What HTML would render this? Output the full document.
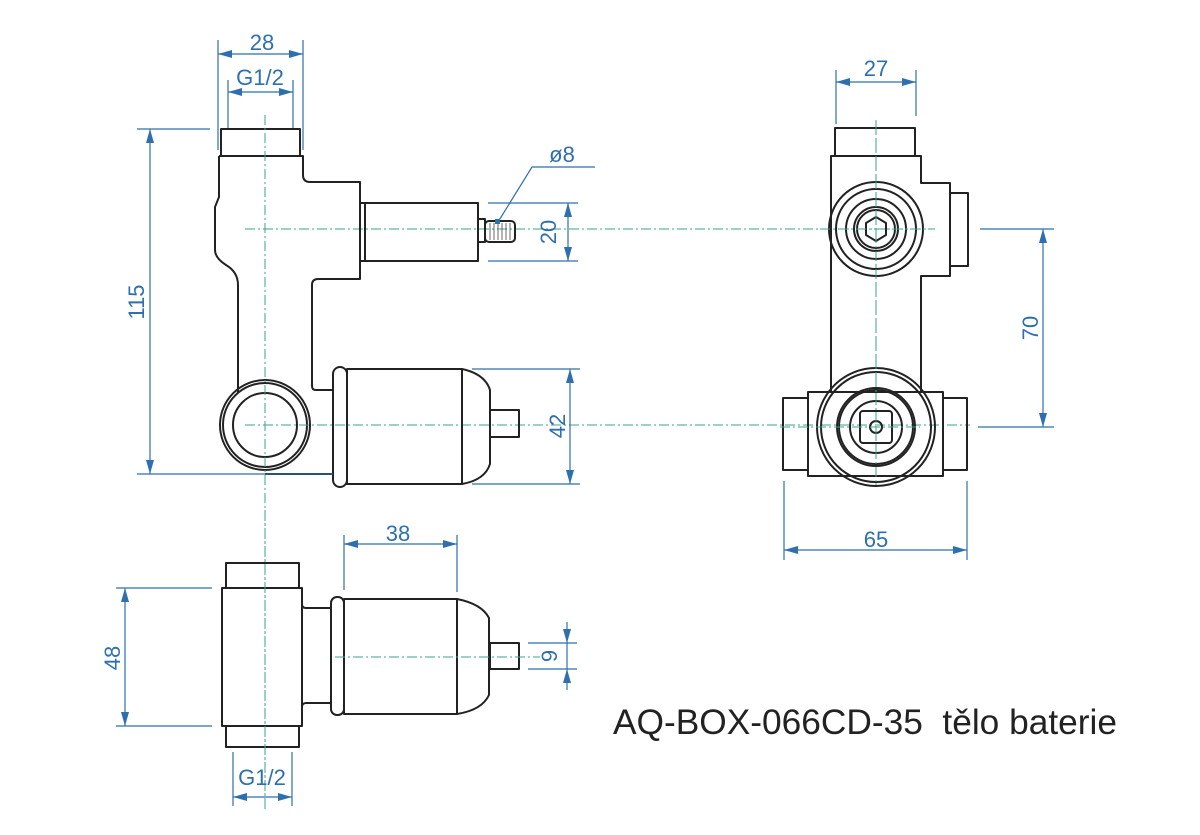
<!DOCTYPE html>
<html><head><meta charset="utf-8"><style>
html,body{margin:0;padding:0;background:#fff;}
svg{display:block;}
.k{fill:none;stroke:#222;stroke-width:2;stroke-linejoin:round;}
.d{fill:none;stroke:#2e6fae;stroke-width:1.2;}
.c{fill:none;stroke:#3aa58a;stroke-width:1;stroke-dasharray:10 3 2 3;}
.t{fill:#2e6fae;font-family:"Liberation Sans",sans-serif;font-size:22px;text-anchor:middle;}
</style></head><body>
<svg width="1200" height="835" viewBox="0 0 1200 835" xmlns="http://www.w3.org/2000/svg">
<defs>
<marker id="a" viewBox="0 0 14 8" refX="14" refY="4" markerWidth="14" markerHeight="8" markerUnits="userSpaceOnUse" orient="auto-start-reverse"><path d="M0,0 L14,4 L0,8 z" fill="#2e6fae"/></marker>
</defs>

<!-- centerlines -->
<line class="c" x1="265" y1="115" x2="265" y2="810"/>
<line class="c" x1="245" y1="229" x2="935" y2="229"/>
<line class="c" x1="245" y1="425" x2="970" y2="425"/>
<line class="c" x1="876" y1="120" x2="876" y2="485"/>
<line class="c" x1="335" y1="657" x2="540" y2="657"/>

<!-- LEFT VIEW -->
<rect class="k" x="221" y="129" width="79" height="27"/>
<path class="k" d="M219,156 L303,156 L303,175 Q303,182 310,182 L360,182 L360,279 L318,279 Q312,279 312,285 L312,386 Q312,390 316,390 L333,390"/>
<path class="k" d="M219,156 L219,197 L215,207 L215,250 Q215,258 226,265 Q238,272 238,285 L238,393"/>
<line class="k" x1="265" y1="474" x2="333" y2="474"/>
<circle class="k" cx="265" cy="425" r="45" fill="#fff"/>
<circle class="k" cx="265" cy="425" r="42"/>
<circle class="k" cx="265" cy="425" r="32"/>
<rect class="k" x="360" y="203" width="118" height="58"/>
<line class="k" x1="365" y1="203" x2="365" y2="261"/>
<rect class="k" x="478" y="219" width="7" height="23"/>
<rect class="k" x="485" y="221" width="30" height="21" rx="4" stroke-width="1.5"/>
<path d="M490,223 V240 M494,223 V240 M498,223 V240 M502,223 V240 M506,223 V240 M510,223 V240" stroke="#444" stroke-width="0.8"/>
<rect class="k" x="333" y="367" width="14" height="120" rx="7"/>
<rect class="k" x="347" y="369" width="115" height="115"/>
<path class="k" d="M462,369 Q485,374 490,390 L490,464 Q485,480 462,484"/>
<rect class="k" x="490" y="410" width="29" height="27"/>
<line class="c" x1="245" y1="425" x2="330" y2="425"/>
<line class="c" x1="265" y1="115" x2="265" y2="480"/>
<!-- dims left -->
<line class="d" x1="218" y1="40" x2="218" y2="150"/>
<line class="d" x1="303" y1="40" x2="303" y2="150"/>
<line class="d" x1="218" y1="54" x2="303" y2="54" marker-start="url(#a)" marker-end="url(#a)"/>
<text class="t" x="262" y="50">28</text>
<line class="d" x1="228" y1="80" x2="228" y2="128"/>
<line class="d" x1="293" y1="80" x2="293" y2="128"/>
<line class="d" x1="228" y1="92" x2="293" y2="92" marker-start="url(#a)" marker-end="url(#a)"/>
<text class="t" x="260" y="85">G1/2</text>
<line class="d" x1="137" y1="129" x2="210" y2="129"/>
<line class="d" x1="137" y1="474" x2="333" y2="474"/>
<line class="d" x1="150" y1="129" x2="150" y2="474" marker-start="url(#a)" marker-end="url(#a)"/>
<text class="t" transform="translate(144,302) rotate(-90)">115</text>
<line class="d" x1="488" y1="203" x2="578" y2="203"/>
<line class="d" x1="488" y1="261" x2="578" y2="261"/>
<line class="d" x1="568" y1="203" x2="568" y2="261" marker-start="url(#a)" marker-end="url(#a)"/>
<text class="t" transform="translate(556,232) rotate(-90)">20</text>
<polyline class="d" points="498,222 532,167 595,167"/>
<rect x="495" y="219" width="5" height="5" fill="#2e6fae"/>
<text class="t" x="562" y="162">ø8</text>
<line class="d" x1="472" y1="369" x2="580" y2="369"/>
<line class="d" x1="472" y1="484" x2="580" y2="484"/>
<line class="d" x1="570" y1="369" x2="570" y2="484" marker-start="url(#a)" marker-end="url(#a)"/>
<text class="t" transform="translate(565,426) rotate(-90)">42</text>

<!-- RIGHT VIEW -->
<rect class="k" x="835" y="128" width="80" height="28"/>
<path class="k" d="M831,392 L831,156 L921,156 L921,183 L950,183 L950,276 L921,276 L921,392"/>
<rect class="k" x="950" y="193" width="18" height="73"/>
<rect class="k" x="808" y="392" width="135" height="84"/>
<rect class="k" x="783" y="398" width="25" height="72"/>
<rect class="k" x="943" y="398" width="24" height="72"/>
<circle class="k" cx="876" cy="229" r="47" fill="#fff"/>
<circle class="k" cx="876" cy="229" r="40"/>
<circle class="k" cx="876" cy="229" r="30"/>
<circle class="k" cx="876" cy="229" r="22"/>
<circle class="k" cx="876" cy="229" r="19" stroke-width="1"/>
<polygon class="k" stroke-width="1.5" points="876,217 886,223 886,235 876,241 866,235 866,223"/>
<circle class="k" cx="876" cy="427" r="59" fill="#fff"/>
<circle class="k" cx="876" cy="427" r="55"/>
<circle class="k" cx="876" cy="427" r="39" stroke-width="1"/>
<circle class="k" cx="876" cy="427" r="37" stroke-width="1"/>
<circle class="k" cx="876" cy="427" r="26"/>
<rect class="k" x="860" y="411" width="32" height="32" rx="3"/>
<circle class="k" cx="876" cy="427" r="6"/>
<line class="c" x1="876" y1="125" x2="876" y2="485"/>
<line class="c" x1="820" y1="229" x2="932" y2="229"/>
<line class="c" x1="780" y1="427" x2="920" y2="427"/>
<!-- dims right -->
<line class="d" x1="836" y1="70" x2="836" y2="124"/>
<line class="d" x1="916" y1="70" x2="916" y2="116"/>
<line class="d" x1="836" y1="82" x2="916" y2="82" marker-start="url(#a)" marker-end="url(#a)"/>
<text class="t" x="876" y="76">27</text>
<line class="d" x1="980" y1="229" x2="1054" y2="229"/>
<line class="d" x1="978" y1="427" x2="1054" y2="427"/>
<line class="d" x1="1043" y1="229" x2="1043" y2="427" marker-start="url(#a)" marker-end="url(#a)"/>
<text class="t" transform="translate(1038,328) rotate(-90)">70</text>
<line class="d" x1="784" y1="481" x2="784" y2="560"/>
<line class="d" x1="967" y1="481" x2="967" y2="560"/>
<line class="d" x1="784" y1="550" x2="967" y2="550" marker-start="url(#a)" marker-end="url(#a)"/>
<text class="t" x="876" y="547">65</text>

<!-- BOTTOM VIEW -->
<rect class="k" x="226" y="563" width="73" height="25"/>
<rect class="k" x="226" y="726" width="73" height="21"/>
<rect class="k" x="222" y="588" width="80" height="138"/>
<path class="k" d="M302,588 L302,604 Q302,608 306,608 L330,608"/>
<path class="k" d="M302,726 L302,707 Q302,703 306,703 L330,703"/>
<rect class="k" x="331" y="597" width="13" height="118" rx="6"/>
<rect class="k" x="344" y="599" width="113" height="115"/>
<path class="k" d="M457,599 Q482,604 489,618 L489,695 Q482,710 457,714"/>
<rect class="k" x="490" y="643" width="29" height="26"/>
<line class="c" x1="265" y1="510" x2="265" y2="810"/>
<line class="c" x1="335" y1="657" x2="540" y2="657"/>
<!-- dims bottom -->
<line class="d" x1="344" y1="535" x2="344" y2="590"/>
<line class="d" x1="457" y1="535" x2="457" y2="592"/>
<line class="d" x1="344" y1="544" x2="457" y2="544" marker-start="url(#a)" marker-end="url(#a)"/>
<text class="t" x="398" y="541">38</text>
<line class="d" x1="528" y1="643" x2="577" y2="643"/>
<line class="d" x1="528" y1="669" x2="577" y2="669"/>
<line class="d" x1="567" y1="622" x2="567" y2="643" marker-end="url(#a)"/>
<line class="d" x1="567" y1="690" x2="567" y2="669" marker-end="url(#a)"/>
<line class="d" x1="567" y1="643" x2="567" y2="669"/>
<text class="t" transform="translate(557,656) rotate(-90)">9</text>
<line class="d" x1="116" y1="588" x2="212" y2="588"/>
<line class="d" x1="116" y1="726" x2="212" y2="726"/>
<line class="d" x1="125" y1="588" x2="125" y2="726" marker-start="url(#a)" marker-end="url(#a)"/>
<text class="t" transform="translate(120,658) rotate(-90)">48</text>
<line class="d" x1="233" y1="752" x2="233" y2="806"/>
<line class="d" x1="292" y1="752" x2="292" y2="806"/>
<line class="d" x1="233" y1="797" x2="292" y2="797" marker-start="url(#a)" marker-end="url(#a)"/>
<text class="t" x="262" y="785">G1/2</text>

<text x="613" y="734" textLength="504" lengthAdjust="spacingAndGlyphs" style="fill:#222;font-family:'Liberation Sans',sans-serif;font-size:35px;white-space:pre" xml:space="preserve">AQ-BOX-066CD-35  tělo baterie</text>
</svg>
</body></html>
